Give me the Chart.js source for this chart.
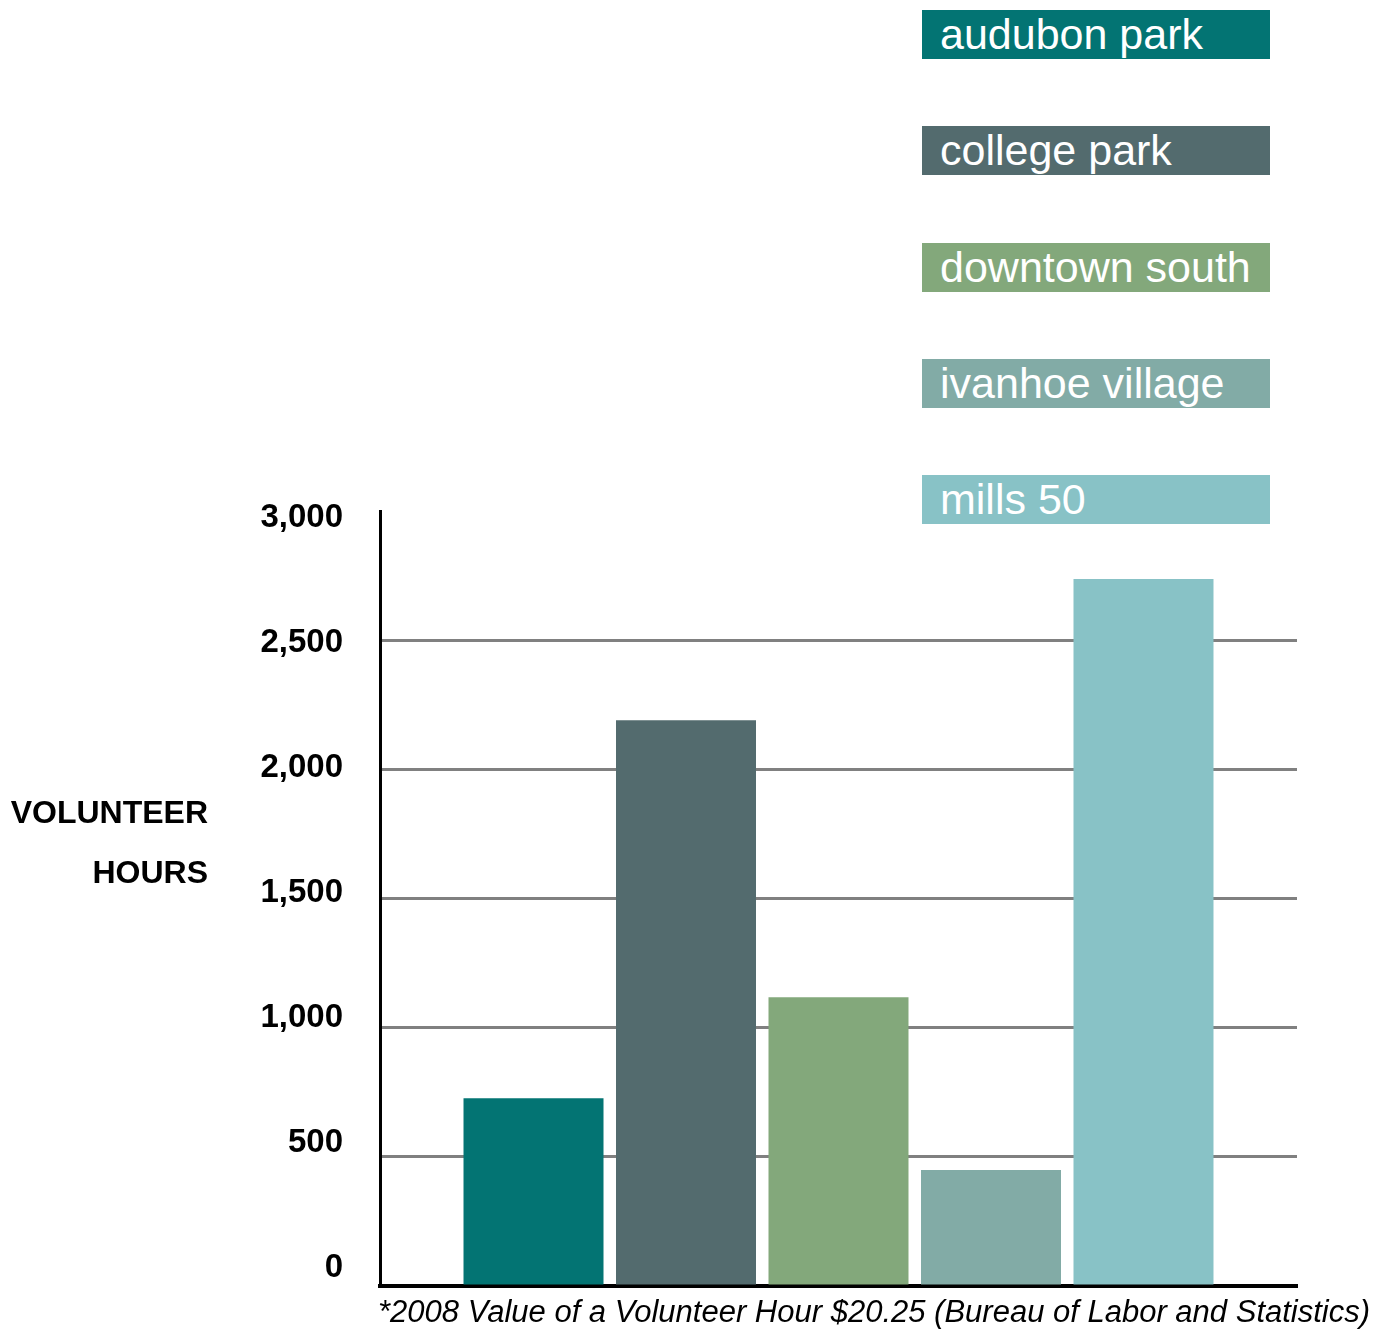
<!DOCTYPE html>
<html lang="en">

<head>
    <meta charset="UTF-8">
    <title>Volunteer Hours</title>
    <script src="https://cdn.jsdelivr.net/npm/chart.js"></script>
    <style>
        body {
            margin: 0;
            padding: 0;
            background-color: #fff;
            font-family: 'Liberation Sans', Arial, sans-serif;
        }

        #wrap {
            position: relative;
            width: 1392px;
            height: 1332px;
        }

        #chart {
            position: absolute;
            left: 0;
            top: 0;
        }

        #ytitle {
            position: absolute;
            left: 0;
            top: 782px;
            width: 208px;
            text-align: right;
            font-weight: bold;
            font-size: 32px;
            line-height: 60px;
            color: #000;
        }

        #note {
            position: absolute;
            left: 378px;
            top: 1294px;
            font-style: italic;
            font-size: 31px;
            line-height: 36px;
            color: #000;
            white-space: nowrap;
        }

        .key {
            position: absolute;
            left: 922px;
            width: 330px;
            height: 49px;
            padding-left: 18px;
            color: #fff;
            font-size: 43px;
            line-height: 49px;
            white-space: nowrap;
        }
    </style>
</head>

<body>
    <div id="wrap">
        <canvas id="chart" width="1392" height="1332"></canvas>
        <div id="ytitle"></div>
        <div id="note"></div>
        <div id="keys"></div>
    </div>

    <script type="text/javascript">
        var categories = ['audubon park', 'college park', 'downtown south', 'ivanhoe village', 'mills 50'];
        var hours = [727, 2190, 1118, 449, 2737];
        var colors = ['#037473', '#536b6e', '#83a87b', '#82aba6', '#88c2c6'];
        var yTicks = [0, 500, 1000, 1500, 2000, 2500, 3000];
        var yTitle = ['VOLUNTEER', 'HOURS'];
        var footnote = '*2008 Value of a Volunteer Hour $20.25 (Bureau of Labor and Statistics)';

        var fontFamily = "'Liberation Sans', Arial, sans-serif";

        // legend boxes with the name inside
        var keys = document.getElementById('keys');
        categories.forEach(function (name, i) {
            var d = document.createElement('div');
            d.className = 'key';
            d.style.top = (10 + i * 116.25) + 'px';
            d.style.backgroundColor = colors[i];
            d.textContent = name;
            keys.appendChild(d);
        });

        document.getElementById('ytitle').innerHTML = yTitle.join('<br>');
        document.getElementById('note').textContent = footnote;

        var datasets = categories.map(function (name, i) {
            return {
                label: name,
                data: [hours[i]],
                backgroundColor: colors[i],
                borderWidth: 0,
                categoryPercentage: 0.8315,
                barPercentage: 0.918
            };
        });

        new Chart(document.getElementById('chart').getContext('2d'), {
            type: 'bar',
            data: {
                labels: [''],
                datasets: datasets
            },
            options: {
                responsive: false,
                animation: false,
                layout: {
                    padding: { top: 511, right: 95, left: 0, bottom: 0 }
                },
                plugins: {
                    legend: { display: false },
                    tooltip: { enabled: false }
                },
                scales: {
                    x: {
                        grid: { display: false },
                        border: { color: '#000', width: 4 },
                        ticks: { display: false },
                        afterFit: function (s) { s.height = 46; }
                    },
                    y: {
                        position: 'left',
                        weight: 0,
                        min: 0,
                        max: 3000,
                        afterBuildTicks: function (s) {
                            s.ticks = yTicks.map(function (v) { return { value: v }; });
                        },
                        ticks: { display: false },
                        grid: {
                            drawTicks: false,
                            lineWidth: 3,
                            color: function (ctx) {
                                var v = ctx.tick ? ctx.tick.value : null;
                                return (v === 0 || v === 3000) ? 'rgba(0,0,0,0)' : '#808080';
                            }
                        },
                        border: { color: '#000', width: 3 },
                        afterFit: function (s) { s.width = 0; }
                    },
                    // tick labels sit on their own, slightly tighter spacing
                    yl: {
                        position: 'left',
                        weight: 1,
                        min: -72,
                        max: 3028,
                        afterBuildTicks: function (s) {
                            s.ticks = yTicks.map(function (v) { return { value: v }; });
                        },
                        grid: {
                            drawOnChartArea: false,
                            drawTicks: true,
                            tickLength: 37,
                            tickColor: 'rgba(0,0,0,0)'
                        },
                        border: { display: false },
                        ticks: {
                            padding: 0,
                            color: '#000',
                            font: { family: fontFamily, size: 33, weight: 'bold' },
                            callback: function (v) { return v.toLocaleString('en-US'); }
                        },
                        afterFit: function (s) { s.width = 380; }
                    }
                }
            }
        });
    </script>
</body>

</html>
